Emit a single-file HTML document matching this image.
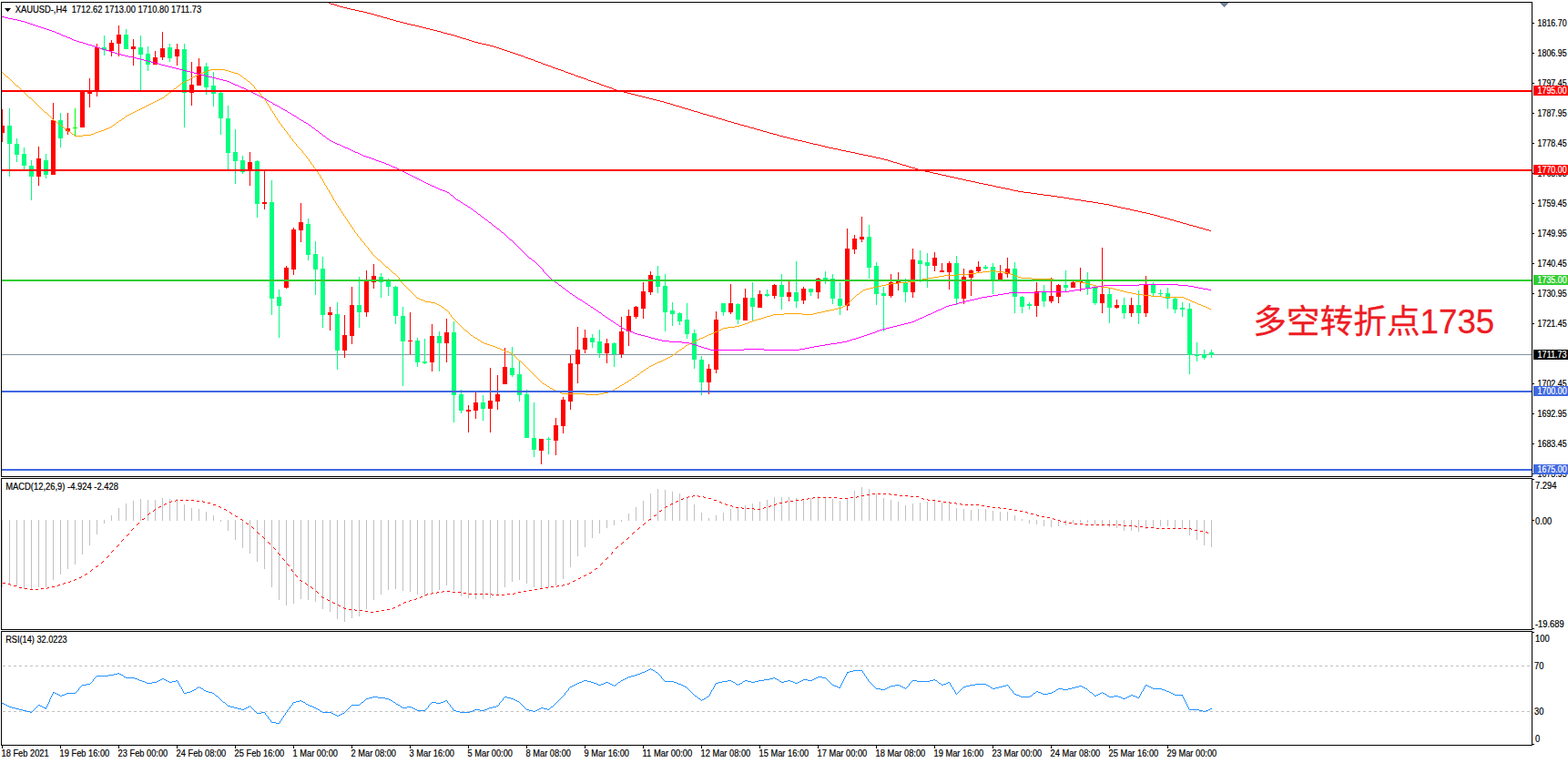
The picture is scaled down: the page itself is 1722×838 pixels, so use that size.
<!DOCTYPE html><html><head><meta charset="utf-8"><title>XAUUSD H4</title>
<style>html,body{margin:0;padding:0;background:#fff;overflow:hidden}svg{display:block}text{font-family:"Liberation Sans",sans-serif;font-size:10.2px;fill:#000;stroke:#000;stroke-width:.2px}</style></head><body>
<svg width="1722" height="838" viewBox="0 0 1722 838">
<rect width="1722" height="838" fill="#fff"/>
<defs><clipPath id="cm"><rect x="2" y="3" width="1680" height="520"/></clipPath></defs>
<g shape-rendering="crispEdges">
<g clip-path="url(#cm)">
<rect x="2" y="389" width="1680" height="1" fill="#8493A3"/>
<rect x="2" y="120" width="1" height="36" fill="#FF0000"/>
<rect x="0" y="138" width="5" height="8" fill="#FF0000"/>
<rect x="10" y="119" width="1" height="75" fill="#00FF7F"/>
<rect x="8" y="138" width="5" height="20" fill="#00FF7F"/>
<rect x="18" y="152" width="1" height="26" fill="#00FF7F"/>
<rect x="16" y="158" width="5" height="12" fill="#00FF7F"/>
<rect x="26" y="162" width="1" height="24" fill="#00FF7F"/>
<rect x="24" y="169" width="5" height="13" fill="#00FF7F"/>
<rect x="34" y="176" width="1" height="44" fill="#00FF7F"/>
<rect x="32" y="182" width="5" height="12" fill="#00FF7F"/>
<rect x="42" y="161" width="1" height="43" fill="#FF0000"/>
<rect x="40" y="174" width="5" height="20" fill="#FF0000"/>
<rect x="50" y="169" width="1" height="27" fill="#00FF7F"/>
<rect x="48" y="176" width="5" height="16" fill="#00FF7F"/>
<rect x="58" y="113" width="1" height="79" fill="#FF0000"/>
<rect x="56" y="132" width="5" height="60" fill="#FF0000"/>
<rect x="66" y="124" width="1" height="38" fill="#00FF7F"/>
<rect x="64" y="132" width="5" height="20" fill="#00FF7F"/>
<rect x="74" y="124" width="1" height="24" fill="#FF0000"/>
<rect x="72" y="141" width="5" height="3" fill="#FF0000"/>
<rect x="82" y="119" width="1" height="31" fill="#00FF00"/>
<rect x="80" y="140" width="5" height="1" fill="#00FF00"/>
<rect x="90" y="101" width="1" height="39" fill="#FF0000"/>
<rect x="88" y="101" width="5" height="39" fill="#FF0000"/>
<rect x="98" y="86" width="1" height="32" fill="#FF0000"/>
<rect x="96" y="100" width="5" height="3" fill="#FF0000"/>
<rect x="106" y="48" width="1" height="58" fill="#FF0000"/>
<rect x="104" y="52" width="5" height="48" fill="#FF0000"/>
<rect x="114" y="39" width="1" height="22" fill="#00FF7F"/>
<rect x="112" y="52" width="5" height="3" fill="#00FF7F"/>
<rect x="122" y="44" width="1" height="18" fill="#FF0000"/>
<rect x="120" y="47" width="5" height="9" fill="#FF0000"/>
<rect x="130" y="28" width="1" height="34" fill="#FF0000"/>
<rect x="128" y="38" width="5" height="10" fill="#FF0000"/>
<rect x="138" y="32" width="1" height="22" fill="#00FF7F"/>
<rect x="136" y="38" width="5" height="16" fill="#00FF7F"/>
<rect x="146" y="43" width="1" height="29" fill="#FF0000"/>
<rect x="144" y="51" width="5" height="3" fill="#FF0000"/>
<rect x="154" y="39" width="1" height="60" fill="#00FF7F"/>
<rect x="152" y="52" width="5" height="8" fill="#00FF7F"/>
<rect x="162" y="51" width="1" height="27" fill="#00FF7F"/>
<rect x="160" y="59" width="5" height="12" fill="#00FF7F"/>
<rect x="170" y="56" width="1" height="15" fill="#FF0000"/>
<rect x="168" y="63" width="5" height="8" fill="#FF0000"/>
<rect x="178" y="35" width="1" height="31" fill="#FF0000"/>
<rect x="176" y="53" width="5" height="10" fill="#FF0000"/>
<rect x="186" y="48" width="1" height="20" fill="#00FF7F"/>
<rect x="184" y="52" width="5" height="12" fill="#00FF7F"/>
<rect x="194" y="48" width="1" height="24" fill="#FF0000"/>
<rect x="192" y="54" width="5" height="8" fill="#FF0000"/>
<rect x="202" y="48" width="1" height="92" fill="#00FF7F"/>
<rect x="200" y="54" width="5" height="48" fill="#00FF7F"/>
<rect x="210" y="68" width="1" height="48" fill="#FF0000"/>
<rect x="208" y="93" width="5" height="9" fill="#FF0000"/>
<rect x="218" y="64" width="1" height="30" fill="#FF0000"/>
<rect x="216" y="73" width="5" height="21" fill="#FF0000"/>
<rect x="226" y="69" width="1" height="35" fill="#00FF7F"/>
<rect x="224" y="73" width="5" height="23" fill="#00FF7F"/>
<rect x="234" y="79" width="1" height="38" fill="#00FF7F"/>
<rect x="232" y="94" width="5" height="9" fill="#00FF7F"/>
<rect x="242" y="101" width="1" height="47" fill="#00FF7F"/>
<rect x="240" y="102" width="5" height="28" fill="#00FF7F"/>
<rect x="250" y="116" width="1" height="72" fill="#00FF7F"/>
<rect x="248" y="130" width="5" height="38" fill="#00FF7F"/>
<rect x="258" y="142" width="1" height="60" fill="#00FF7F"/>
<rect x="256" y="167" width="5" height="10" fill="#00FF7F"/>
<rect x="266" y="171" width="1" height="20" fill="#00FF7F"/>
<rect x="264" y="176" width="5" height="13" fill="#00FF7F"/>
<rect x="274" y="167" width="1" height="37" fill="#FF0000"/>
<rect x="272" y="178" width="5" height="9" fill="#FF0000"/>
<rect x="282" y="176" width="1" height="63" fill="#00FF7F"/>
<rect x="280" y="177" width="5" height="47" fill="#00FF7F"/>
<rect x="290" y="188" width="1" height="42" fill="#FF0000"/>
<rect x="288" y="222" width="5" height="2" fill="#FF0000"/>
<rect x="298" y="198" width="1" height="148" fill="#00FF7F"/>
<rect x="296" y="222" width="5" height="106" fill="#00FF7F"/>
<rect x="306" y="318" width="1" height="53" fill="#00FF7F"/>
<rect x="304" y="326" width="5" height="10" fill="#00FF7F"/>
<rect x="314" y="292" width="1" height="25" fill="#FF0000"/>
<rect x="312" y="294" width="5" height="22" fill="#FF0000"/>
<rect x="322" y="250" width="1" height="52" fill="#FF0000"/>
<rect x="320" y="252" width="5" height="44" fill="#FF0000"/>
<rect x="330" y="223" width="1" height="43" fill="#FF0000"/>
<rect x="328" y="244" width="5" height="9" fill="#FF0000"/>
<rect x="338" y="240" width="1" height="46" fill="#00FF7F"/>
<rect x="336" y="246" width="5" height="34" fill="#00FF7F"/>
<rect x="346" y="265" width="1" height="59" fill="#00FF7F"/>
<rect x="344" y="279" width="5" height="17" fill="#00FF7F"/>
<rect x="354" y="282" width="1" height="78" fill="#00FF7F"/>
<rect x="352" y="295" width="5" height="51" fill="#00FF7F"/>
<rect x="362" y="337" width="1" height="26" fill="#FF0000"/>
<rect x="360" y="343" width="5" height="3" fill="#FF0000"/>
<rect x="370" y="332" width="1" height="74" fill="#00FF7F"/>
<rect x="368" y="345" width="5" height="40" fill="#00FF7F"/>
<rect x="378" y="346" width="1" height="47" fill="#FF0000"/>
<rect x="376" y="368" width="5" height="17" fill="#FF0000"/>
<rect x="386" y="315" width="1" height="63" fill="#FF0000"/>
<rect x="384" y="335" width="5" height="34" fill="#FF0000"/>
<rect x="394" y="304" width="1" height="56" fill="#00FF7F"/>
<rect x="392" y="335" width="5" height="8" fill="#00FF7F"/>
<rect x="402" y="297" width="1" height="51" fill="#FF0000"/>
<rect x="400" y="308" width="5" height="35" fill="#FF0000"/>
<rect x="410" y="290" width="1" height="27" fill="#FF0000"/>
<rect x="408" y="303" width="5" height="7" fill="#FF0000"/>
<rect x="418" y="300" width="1" height="27" fill="#00FF7F"/>
<rect x="416" y="304" width="5" height="6" fill="#00FF7F"/>
<rect x="426" y="306" width="1" height="19" fill="#00FF7F"/>
<rect x="424" y="308" width="5" height="7" fill="#00FF7F"/>
<rect x="434" y="314" width="1" height="42" fill="#00FF7F"/>
<rect x="432" y="315" width="5" height="32" fill="#00FF7F"/>
<rect x="442" y="337" width="1" height="87" fill="#00FF7F"/>
<rect x="440" y="347" width="5" height="28" fill="#00FF7F"/>
<rect x="450" y="343" width="1" height="46" fill="#FF0000"/>
<rect x="448" y="374" width="5" height="1" fill="#FF0000"/>
<rect x="458" y="371" width="1" height="32" fill="#00FF7F"/>
<rect x="456" y="374" width="5" height="24" fill="#00FF7F"/>
<rect x="466" y="372" width="1" height="28" fill="#00FF7F"/>
<rect x="464" y="397" width="5" height="2" fill="#00FF7F"/>
<rect x="474" y="356" width="1" height="52" fill="#FF0000"/>
<rect x="472" y="369" width="5" height="29" fill="#FF0000"/>
<rect x="482" y="364" width="1" height="44" fill="#00FF7F"/>
<rect x="480" y="369" width="5" height="8" fill="#00FF7F"/>
<rect x="490" y="350" width="1" height="48" fill="#FF0000"/>
<rect x="488" y="365" width="5" height="12" fill="#FF0000"/>
<rect x="498" y="353" width="1" height="111" fill="#00FF7F"/>
<rect x="496" y="365" width="5" height="69" fill="#00FF7F"/>
<rect x="506" y="428" width="1" height="26" fill="#00FF7F"/>
<rect x="504" y="433" width="5" height="18" fill="#00FF7F"/>
<rect x="514" y="445" width="1" height="30" fill="#FF0000"/>
<rect x="512" y="450" width="5" height="2" fill="#FF0000"/>
<rect x="522" y="431" width="1" height="29" fill="#FF0000"/>
<rect x="520" y="442" width="5" height="9" fill="#FF0000"/>
<rect x="530" y="434" width="1" height="28" fill="#00FF7F"/>
<rect x="528" y="442" width="5" height="7" fill="#00FF7F"/>
<rect x="538" y="404" width="1" height="71" fill="#FF0000"/>
<rect x="536" y="440" width="5" height="9" fill="#FF0000"/>
<rect x="546" y="412" width="1" height="38" fill="#FF0000"/>
<rect x="544" y="433" width="5" height="8" fill="#FF0000"/>
<rect x="554" y="382" width="1" height="40" fill="#FF0000"/>
<rect x="552" y="403" width="5" height="19" fill="#FF0000"/>
<rect x="562" y="381" width="1" height="33" fill="#00FF7F"/>
<rect x="560" y="404" width="5" height="8" fill="#00FF7F"/>
<rect x="570" y="397" width="1" height="44" fill="#00FF7F"/>
<rect x="568" y="411" width="5" height="23" fill="#00FF7F"/>
<rect x="578" y="428" width="1" height="53" fill="#00FF7F"/>
<rect x="576" y="433" width="5" height="48" fill="#00FF7F"/>
<rect x="586" y="442" width="1" height="60" fill="#00FF7F"/>
<rect x="584" y="481" width="5" height="13" fill="#00FF7F"/>
<rect x="594" y="482" width="1" height="28" fill="#FF0000"/>
<rect x="592" y="482" width="5" height="13" fill="#FF0000"/>
<rect x="602" y="480" width="1" height="19" fill="#00FF7F"/>
<rect x="600" y="482" width="5" height="1" fill="#00FF7F"/>
<rect x="610" y="459" width="1" height="41" fill="#FF0000"/>
<rect x="608" y="467" width="5" height="17" fill="#FF0000"/>
<rect x="618" y="436" width="1" height="40" fill="#FF0000"/>
<rect x="616" y="439" width="5" height="29" fill="#FF0000"/>
<rect x="626" y="390" width="1" height="60" fill="#FF0000"/>
<rect x="624" y="399" width="5" height="42" fill="#FF0000"/>
<rect x="634" y="359" width="1" height="62" fill="#FF0000"/>
<rect x="632" y="384" width="5" height="16" fill="#FF0000"/>
<rect x="642" y="362" width="1" height="26" fill="#FF0000"/>
<rect x="640" y="371" width="5" height="13" fill="#FF0000"/>
<rect x="650" y="367" width="1" height="15" fill="#00FF7F"/>
<rect x="648" y="371" width="5" height="5" fill="#00FF7F"/>
<rect x="658" y="362" width="1" height="31" fill="#00FF7F"/>
<rect x="656" y="375" width="5" height="13" fill="#00FF7F"/>
<rect x="666" y="372" width="1" height="27" fill="#FF0000"/>
<rect x="664" y="377" width="5" height="11" fill="#FF0000"/>
<rect x="674" y="376" width="1" height="27" fill="#00FF7F"/>
<rect x="672" y="377" width="5" height="12" fill="#00FF7F"/>
<rect x="682" y="348" width="1" height="45" fill="#FF0000"/>
<rect x="680" y="364" width="5" height="25" fill="#FF0000"/>
<rect x="690" y="340" width="1" height="40" fill="#FF0000"/>
<rect x="688" y="347" width="5" height="17" fill="#FF0000"/>
<rect x="698" y="336" width="1" height="14" fill="#FF0000"/>
<rect x="696" y="337" width="5" height="11" fill="#FF0000"/>
<rect x="706" y="310" width="1" height="40" fill="#FF0000"/>
<rect x="704" y="320" width="5" height="19" fill="#FF0000"/>
<rect x="714" y="298" width="1" height="26" fill="#FF0000"/>
<rect x="712" y="302" width="5" height="19" fill="#FF0000"/>
<rect x="722" y="292" width="1" height="30" fill="#00FF7F"/>
<rect x="720" y="303" width="5" height="12" fill="#00FF7F"/>
<rect x="730" y="301" width="1" height="63" fill="#00FF7F"/>
<rect x="728" y="314" width="5" height="29" fill="#00FF7F"/>
<rect x="738" y="332" width="1" height="26" fill="#00FF7F"/>
<rect x="736" y="341" width="5" height="4" fill="#00FF7F"/>
<rect x="746" y="343" width="1" height="14" fill="#00FF7F"/>
<rect x="744" y="344" width="5" height="9" fill="#00FF7F"/>
<rect x="754" y="333" width="1" height="39" fill="#00FF7F"/>
<rect x="752" y="351" width="5" height="16" fill="#00FF7F"/>
<rect x="762" y="362" width="1" height="43" fill="#00FF7F"/>
<rect x="760" y="366" width="5" height="29" fill="#00FF7F"/>
<rect x="770" y="391" width="1" height="43" fill="#00FF7F"/>
<rect x="768" y="395" width="5" height="25" fill="#00FF7F"/>
<rect x="778" y="400" width="1" height="33" fill="#FF0000"/>
<rect x="776" y="405" width="5" height="15" fill="#FF0000"/>
<rect x="786" y="342" width="1" height="68" fill="#FF0000"/>
<rect x="784" y="351" width="5" height="55" fill="#FF0000"/>
<rect x="794" y="333" width="1" height="14" fill="#00FF7F"/>
<rect x="792" y="333" width="5" height="10" fill="#00FF7F"/>
<rect x="802" y="312" width="1" height="33" fill="#FF0000"/>
<rect x="800" y="333" width="5" height="10" fill="#FF0000"/>
<rect x="810" y="333" width="1" height="23" fill="#00FF7F"/>
<rect x="808" y="334" width="5" height="17" fill="#00FF7F"/>
<rect x="818" y="317" width="1" height="35" fill="#FF0000"/>
<rect x="816" y="327" width="5" height="25" fill="#FF0000"/>
<rect x="826" y="310" width="1" height="42" fill="#00FF7F"/>
<rect x="824" y="327" width="5" height="10" fill="#00FF7F"/>
<rect x="834" y="319" width="1" height="19" fill="#FF0000"/>
<rect x="832" y="323" width="5" height="15" fill="#FF0000"/>
<rect x="842" y="318" width="1" height="8" fill="#00FF7F"/>
<rect x="840" y="323" width="5" height="2" fill="#00FF7F"/>
<rect x="850" y="312" width="1" height="16" fill="#FF0000"/>
<rect x="848" y="313" width="5" height="12" fill="#FF0000"/>
<rect x="858" y="301" width="1" height="39" fill="#00FF7F"/>
<rect x="856" y="313" width="5" height="13" fill="#00FF7F"/>
<rect x="866" y="309" width="1" height="22" fill="#FF0000"/>
<rect x="864" y="321" width="5" height="5" fill="#FF0000"/>
<rect x="874" y="287" width="1" height="51" fill="#00FF7F"/>
<rect x="872" y="321" width="5" height="10" fill="#00FF7F"/>
<rect x="882" y="315" width="1" height="19" fill="#FF0000"/>
<rect x="880" y="317" width="5" height="13" fill="#FF0000"/>
<rect x="890" y="317" width="1" height="8" fill="#00FF7F"/>
<rect x="888" y="317" width="5" height="4" fill="#00FF7F"/>
<rect x="898" y="305" width="1" height="23" fill="#FF0000"/>
<rect x="896" y="306" width="5" height="15" fill="#FF0000"/>
<rect x="906" y="298" width="1" height="14" fill="#00FF7F"/>
<rect x="904" y="305" width="5" height="2" fill="#00FF7F"/>
<rect x="914" y="301" width="1" height="33" fill="#00FF7F"/>
<rect x="912" y="306" width="5" height="22" fill="#00FF7F"/>
<rect x="922" y="310" width="1" height="36" fill="#00FF7F"/>
<rect x="920" y="328" width="5" height="8" fill="#00FF7F"/>
<rect x="930" y="251" width="1" height="90" fill="#FF0000"/>
<rect x="928" y="273" width="5" height="63" fill="#FF0000"/>
<rect x="938" y="258" width="1" height="21" fill="#FF0000"/>
<rect x="936" y="262" width="5" height="12" fill="#FF0000"/>
<rect x="946" y="238" width="1" height="28" fill="#FF0000"/>
<rect x="944" y="260" width="5" height="3" fill="#FF0000"/>
<rect x="954" y="247" width="1" height="59" fill="#00FF7F"/>
<rect x="952" y="260" width="5" height="34" fill="#00FF7F"/>
<rect x="962" y="288" width="1" height="47" fill="#00FF7F"/>
<rect x="960" y="292" width="5" height="31" fill="#00FF7F"/>
<rect x="970" y="315" width="1" height="49" fill="#00FF7F"/>
<rect x="968" y="322" width="5" height="3" fill="#00FF7F"/>
<rect x="978" y="301" width="1" height="26" fill="#FF0000"/>
<rect x="976" y="310" width="5" height="15" fill="#FF0000"/>
<rect x="986" y="299" width="1" height="20" fill="#FF0000"/>
<rect x="984" y="309" width="5" height="2" fill="#FF0000"/>
<rect x="994" y="306" width="1" height="26" fill="#00FF7F"/>
<rect x="992" y="310" width="5" height="11" fill="#00FF7F"/>
<rect x="1002" y="273" width="1" height="54" fill="#FF0000"/>
<rect x="1000" y="285" width="5" height="36" fill="#FF0000"/>
<rect x="1010" y="275" width="1" height="35" fill="#00FF7F"/>
<rect x="1008" y="286" width="5" height="4" fill="#00FF7F"/>
<rect x="1018" y="278" width="1" height="38" fill="#00FF7F"/>
<rect x="1016" y="288" width="5" height="4" fill="#00FF7F"/>
<rect x="1026" y="277" width="1" height="21" fill="#FF0000"/>
<rect x="1024" y="283" width="5" height="9" fill="#FF0000"/>
<rect x="1034" y="289" width="1" height="10" fill="#FF0000"/>
<rect x="1032" y="297" width="5" height="2" fill="#FF0000"/>
<rect x="1042" y="287" width="1" height="31" fill="#FF0000"/>
<rect x="1040" y="289" width="5" height="10" fill="#FF0000"/>
<rect x="1050" y="281" width="1" height="54" fill="#00FF7F"/>
<rect x="1048" y="289" width="5" height="39" fill="#00FF7F"/>
<rect x="1058" y="295" width="1" height="39" fill="#FF0000"/>
<rect x="1056" y="304" width="5" height="24" fill="#FF0000"/>
<rect x="1066" y="296" width="1" height="29" fill="#FF0000"/>
<rect x="1064" y="297" width="5" height="8" fill="#FF0000"/>
<rect x="1074" y="287" width="1" height="13" fill="#FF0000"/>
<rect x="1072" y="293" width="5" height="5" fill="#FF0000"/>
<rect x="1082" y="291" width="1" height="5" fill="#00FF7F"/>
<rect x="1080" y="293" width="5" height="2" fill="#00FF7F"/>
<rect x="1090" y="289" width="1" height="34" fill="#00FF7F"/>
<rect x="1088" y="293" width="5" height="14" fill="#00FF7F"/>
<rect x="1098" y="291" width="1" height="16" fill="#FF0000"/>
<rect x="1096" y="300" width="5" height="7" fill="#FF0000"/>
<rect x="1106" y="283" width="1" height="22" fill="#FF0000"/>
<rect x="1104" y="295" width="5" height="6" fill="#FF0000"/>
<rect x="1114" y="288" width="1" height="56" fill="#00FF7F"/>
<rect x="1112" y="295" width="5" height="31" fill="#00FF7F"/>
<rect x="1122" y="325" width="1" height="19" fill="#00FF7F"/>
<rect x="1120" y="326" width="5" height="11" fill="#00FF7F"/>
<rect x="1130" y="332" width="1" height="8" fill="#00FF7F"/>
<rect x="1128" y="334" width="5" height="2" fill="#00FF7F"/>
<rect x="1138" y="310" width="1" height="38" fill="#FF0000"/>
<rect x="1136" y="320" width="5" height="16" fill="#FF0000"/>
<rect x="1146" y="313" width="1" height="24" fill="#00FF7F"/>
<rect x="1144" y="320" width="5" height="11" fill="#00FF7F"/>
<rect x="1154" y="305" width="1" height="28" fill="#FF0000"/>
<rect x="1152" y="325" width="5" height="6" fill="#FF0000"/>
<rect x="1162" y="312" width="1" height="21" fill="#FF0000"/>
<rect x="1160" y="313" width="5" height="13" fill="#FF0000"/>
<rect x="1170" y="297" width="1" height="23" fill="#00FF7F"/>
<rect x="1168" y="313" width="5" height="3" fill="#00FF7F"/>
<rect x="1178" y="309" width="1" height="7" fill="#FF0000"/>
<rect x="1176" y="310" width="5" height="6" fill="#FF0000"/>
<rect x="1186" y="294" width="1" height="26" fill="#FF0000"/>
<rect x="1184" y="308" width="5" height="2" fill="#FF0000"/>
<rect x="1194" y="299" width="1" height="25" fill="#00FF7F"/>
<rect x="1192" y="309" width="5" height="7" fill="#00FF7F"/>
<rect x="1202" y="314" width="1" height="21" fill="#00FF7F"/>
<rect x="1200" y="316" width="5" height="17" fill="#00FF7F"/>
<rect x="1210" y="272" width="1" height="72" fill="#FF0000"/>
<rect x="1208" y="323" width="5" height="10" fill="#FF0000"/>
<rect x="1218" y="317" width="1" height="38" fill="#00FF7F"/>
<rect x="1216" y="323" width="5" height="15" fill="#00FF7F"/>
<rect x="1226" y="329" width="1" height="10" fill="#FF0000"/>
<rect x="1224" y="335" width="5" height="3" fill="#FF0000"/>
<rect x="1234" y="327" width="1" height="23" fill="#00FF7F"/>
<rect x="1232" y="335" width="5" height="9" fill="#00FF7F"/>
<rect x="1242" y="327" width="1" height="21" fill="#FF0000"/>
<rect x="1240" y="335" width="5" height="9" fill="#FF0000"/>
<rect x="1250" y="319" width="1" height="37" fill="#00FF7F"/>
<rect x="1248" y="335" width="5" height="9" fill="#00FF7F"/>
<rect x="1258" y="303" width="1" height="45" fill="#FF0000"/>
<rect x="1256" y="312" width="5" height="32" fill="#FF0000"/>
<rect x="1266" y="310" width="1" height="16" fill="#00FF7F"/>
<rect x="1264" y="312" width="5" height="10" fill="#00FF7F"/>
<rect x="1274" y="318" width="1" height="7" fill="#00FF7F"/>
<rect x="1272" y="322" width="5" height="1" fill="#00FF7F"/>
<rect x="1282" y="316" width="1" height="23" fill="#00FF7F"/>
<rect x="1280" y="322" width="5" height="6" fill="#00FF7F"/>
<rect x="1290" y="327" width="1" height="17" fill="#00FF7F"/>
<rect x="1288" y="328" width="5" height="12" fill="#00FF7F"/>
<rect x="1298" y="332" width="1" height="16" fill="#00FF7F"/>
<rect x="1296" y="338" width="5" height="2" fill="#00FF7F"/>
<rect x="1306" y="333" width="1" height="78" fill="#00FF7F"/>
<rect x="1304" y="339" width="5" height="51" fill="#00FF7F"/>
<rect x="1314" y="376" width="1" height="21" fill="#00FF7F"/>
<rect x="1312" y="389" width="5" height="2" fill="#00FF7F"/>
<rect x="1322" y="384" width="1" height="11" fill="#00FF7F"/>
<rect x="1320" y="389" width="5" height="4" fill="#00FF7F"/>
<rect x="1330" y="384" width="1" height="9" fill="#00FF7F"/>
<rect x="1328" y="387" width="5" height="3" fill="#00FF7F"/>
<path d="M231 76h16M228 77h3M247 77h4M226 78h2M251 78h3M2 79h1M223 79h3M254 79h3M3 80h1M220 80h3M257 80h4M4 81h1M218 81h2M261 81h2M5 82h1M216 82h2M263 82h1M6 83h1M214 83h2M264 83h2M7 84h2M212 84h2M266 84h1M9 85h1M210 85h2M267 85h1M10 86h1M209 86h1M268 86h2M11 87h1M207 87h2M270 87h1M12 88h1M205 88h2M271 88h1M13 89h1M203 89h2M272 89h2M14 90h1M201 90h2M274 90h1M15 91h1M199 91h2M275 91h1M16 92h1M198 92h1M276 92h1M17 93h1M197 93h1M277 93h1M18 94h2M195 94h2M278 94h1M20 95h1M194 95h1M279 95h1M21 96h1M193 96h1M279 96h1M22 97h1M191 97h2M280 97h1M23 98h1M190 98h1M281 98h1M24 99h1M189 99h1M282 99h1M25 100h1M188 100h1M283 100h1M26 101h1M186 101h2M284 101h1M27 102h1M185 102h1M285 102h1M28 103h1M184 103h1M286 103h1M29 104h1M182 104h2M286 104h1M30 105h1M181 105h1M287 105h1M31 106h1M180 106h1M288 106h1M32 107h2M178 107h2M289 107h1M34 108h1M176 108h2M290 108h1M35 109h1M174 109h2M291 109h1M36 110h1M172 110h2M291 110h1M37 111h1M170 111h2M292 111h1M38 112h1M168 112h2M292 112h1M39 113h1M166 113h2M293 113h1M40 114h1M164 114h2M294 114h1M41 115h1M162 115h2M294 115h1M42 116h1M160 116h2M295 116h1M43 117h1M158 117h2M296 117h1M44 118h1M156 118h2M296 118h1M45 119h1M154 119h2M297 119h1M46 120h1M152 120h2M297 120h1M47 121h1M150 121h2M298 121h1M48 122h1M148 122h2M299 122h1M49 123h2M146 123h2M299 123h1M51 124h1M144 124h2M300 124h1M52 125h1M142 125h2M301 125h1M53 126h1M140 126h2M301 126h1M54 127h1M138 127h2M302 127h1M55 128h1M137 128h1M302 128h1M56 129h1M136 129h1M303 129h1M57 130h1M134 130h2M304 130h1M58 131h1M133 131h1M304 131h1M59 132h2M131 132h2M305 132h1M61 133h1M130 133h1M306 133h1M62 134h1M128 134h2M306 134h1M63 135h2M127 135h1M307 135h1M65 136h1M126 136h1M308 136h1M66 137h1M124 137h2M309 137h1M67 138h2M123 138h1M309 138h1M69 139h1M121 139h2M310 139h1M70 140h1M119 140h2M311 140h1M71 141h2M116 141h3M312 141h1M73 142h1M114 142h2M312 142h1M74 143h1M111 143h3M313 143h1M75 144h2M108 144h3M314 144h1M77 145h1M105 145h3M315 145h1M78 146h1M103 146h2M315 146h1M79 147h2M100 147h3M316 147h1M81 148h1M91 148h9M317 148h1M82 149h9M318 149h1M318 150h1M319 151h1M320 152h1M321 153h1M321 154h1M322 155h1M323 156h1M324 157h1M325 158h1M325 159h1M326 160h1M327 161h1M328 162h1M329 163h1M330 164h1M331 165h1M332 166h1M332 167h1M333 168h1M334 169h1M335 170h1M336 171h1M336 172h1M337 173h1M338 174h1M339 175h1M339 176h1M340 177h1M341 178h1M341 179h1M342 180h1M343 181h1M344 182h1M344 183h1M345 184h1M346 185h1M346 186h1M347 187h1M348 188h1M349 189h1M349 190h1M350 191h1M351 192h1M351 193h1M352 194h1M352 195h1M353 196h1M354 197h1M354 198h1M355 199h1M355 200h1M356 201h1M356 202h1M357 203h1M358 204h1M358 205h1M359 206h1M359 207h1M360 208h1M361 209h1M361 210h1M362 211h1M362 212h1M363 213h1M364 214h1M364 215h1M365 216h1M365 217h1M366 218h1M366 219h1M367 220h1M368 221h1M368 222h1M369 223h1M369 224h1M370 225h1M371 226h1M371 227h1M372 228h1M373 229h1M373 230h1M374 231h1M375 232h1M375 233h1M376 234h1M377 235h1M377 236h1M378 237h1M379 238h1M379 239h1M380 240h1M381 241h1M381 242h1M382 243h1M383 244h1M383 245h1M384 246h1M385 247h1M385 248h1M386 249h1M387 250h1M387 251h1M388 252h1M389 253h1M389 254h1M390 255h1M391 256h1M392 257h1M392 258h1M393 259h1M394 260h1M395 261h1M396 262h1M396 263h1M397 264h1M398 265h1M399 266h1M400 267h1M400 268h1M401 269h1M402 270h1M403 271h1M404 272h1M404 273h1M405 274h1M406 275h1M407 276h1M408 277h1M408 278h1M409 279h1M410 280h1M411 281h1M412 282h1M413 283h1M414 284h1M415 285h2M417 286h1M418 287h1M419 288h1M420 289h1M421 290h1M422 291h1M423 292h1M424 293h2M426 294h1M427 295h1M428 296h1M429 297h1M1087 297h7M430 298h1M1079 298h8M1094 298h8M431 299h1M1072 299h7M1102 299h5M432 300h2M1064 300h8M1107 300h3M434 301h1M1051 301h13M1110 301h3M435 302h1M1037 302h14M1113 302h2M436 303h1M1031 303h6M1115 303h3M437 304h1M1025 304h6M1118 304h3M438 305h1M1019 305h6M1121 305h12M438 306h1M1013 306h6M1133 306h24M439 307h1M1009 307h4M1157 307h17M440 308h1M1005 308h4M1174 308h7M440 309h1M997 309h8M1181 309h6M441 310h1M986 310h11M1187 310h5M442 311h1M978 311h8M1192 311h4M443 312h1M973 312h5M1196 312h4M444 313h1M968 313h5M1200 313h4M445 314h1M963 314h5M1204 314h5M446 315h1M959 315h4M1209 315h8M447 316h1M955 316h4M1217 316h5M448 317h1M951 317h4M1222 317h4M449 318h1M948 318h3M1226 318h4M450 319h1M947 319h1M1230 319h4M451 320h1M945 320h2M1234 320h4M452 321h1M944 321h1M1238 321h5M453 322h1M943 322h1M1243 322h5M454 323h1M941 323h2M1248 323h7M455 324h1M940 324h1M1255 324h9M456 325h1M939 325h1M1264 325h12M457 326h1M938 326h1M1276 326h24M458 327h2M937 327h1M1300 327h2M460 328h2M936 328h1M1302 328h3M462 329h3M935 329h1M1305 329h2M465 330h2M934 330h1M1307 330h2M467 331h6M933 331h1M1309 331h3M473 332h5M932 332h1M1312 332h2M478 333h2M931 333h1M1314 333h2M480 334h2M930 334h1M1316 334h3M482 335h2M928 335h2M1319 335h2M484 336h1M926 336h2M1321 336h3M485 337h2M924 337h2M1324 337h2M487 338h1M920 338h4M1326 338h2M488 339h1M916 339h4M1328 339h2M489 340h2M911 340h5M491 341h1M906 341h5M492 342h1M902 342h4M493 343h1M897 343h5M493 344h1M861 344h20M893 344h4M494 345h1M849 345h12M881 345h12M495 346h1M846 346h3M495 347h1M842 347h4M496 348h1M839 348h3M497 349h1M836 349h3M498 350h1M832 350h4M499 351h1M829 351h3M500 352h1M826 352h3M501 353h1M823 353h3M502 354h1M821 354h2M503 355h1M818 355h3M504 356h1M815 356h3M505 357h1M812 357h3M506 358h1M807 358h5M507 359h1M799 359h8M508 360h1M794 360h5M509 361h1M792 361h2M510 362h1M790 362h2M511 363h2M788 363h2M513 364h1M785 364h3M514 365h1M783 365h2M515 366h1M781 366h2M516 367h1M778 367h3M517 368h2M776 368h2M519 369h1M774 369h2M520 370h2M772 370h2M522 371h2M769 371h3M524 372h1M767 372h2M525 373h2M765 373h2M527 374h1M763 374h2M528 375h2M761 375h2M530 376h2M759 376h2M532 377h3M757 377h2M535 378h3M755 378h2M538 379h3M753 379h2M541 380h3M752 380h1M544 381h2M751 381h1M546 382h3M749 382h2M549 383h2M748 383h1M551 384h3M746 384h2M554 385h2M745 385h1M556 386h3M743 386h2M559 387h2M742 387h1M561 388h2M741 388h1M563 389h1M739 389h2M564 390h1M738 390h1M565 391h1M736 391h2M566 392h1M734 392h2M567 393h1M732 393h2M568 394h1M730 394h2M569 395h1M728 395h2M570 396h2M726 396h2M572 397h1M723 397h3M573 398h1M721 398h2M574 399h1M719 399h2M575 400h1M717 400h2M576 401h1M715 401h2M577 402h1M713 402h2M578 403h1M712 403h1M579 404h1M710 404h2M580 405h1M709 405h1M581 406h1M707 406h2M582 407h1M706 407h1M583 408h1M704 408h2M584 409h1M703 409h1M585 410h1M702 410h1M586 411h1M700 411h2M587 412h1M699 412h1M588 413h1M697 413h2M589 414h1M696 414h1M590 415h1M694 415h2M591 416h1M693 416h1M592 417h1M691 417h2M593 418h1M690 418h1M594 419h1M688 419h2M595 420h1M686 420h2M596 421h2M685 421h1M598 422h2M683 422h2M600 423h1M681 423h2M601 424h2M680 424h1M603 425h1M678 425h2M604 426h2M676 426h2M606 427h2M675 427h1M608 428h2M673 428h2M610 429h2M671 429h2M612 430h3M668 430h3M615 431h2M663 431h5M617 432h26M658 432h5M643 433h15" transform="translate(0,.5)" fill="none" stroke="#FFA500" stroke-width="1"/>
<path d="M2 18h3M5 19h4M9 20h5M14 21h5M19 22h4M23 23h4M27 24h3M30 25h3M33 26h3M36 27h3M39 28h3M42 29h3M45 30h3M48 31h3M51 32h3M54 33h3M57 34h3M60 35h2M62 36h3M65 37h2M67 38h2M69 39h3M72 40h2M74 41h3M77 42h2M79 43h2M81 44h3M84 45h3M87 46h4M91 47h3M94 48h3M97 49h4M101 50h3M104 51h3M107 52h3M110 53h3M113 54h3M116 55h4M120 56h3M123 57h3M126 58h3M129 59h4M133 60h4M137 61h4M141 62h5M146 63h4M150 64h4M154 65h4M158 66h4M162 67h4M166 68h4M170 69h4M174 70h3M177 71h4M181 72h4M185 73h4M189 74h4M193 75h4M197 76h4M201 77h4M205 78h4M209 79h4M213 80h4M217 81h4M221 82h4M225 83h4M229 84h4M233 85h4M237 86h4M241 87h4M245 88h4M249 89h3M252 90h2M254 91h2M256 92h2M258 93h3M261 94h2M263 95h2M265 96h3M268 97h2M270 98h2M272 99h2M274 100h2M276 101h2M278 102h2M280 103h2M282 104h2M284 105h2M286 106h2M288 107h2M290 108h2M292 109h1M293 110h2M295 111h2M297 112h2M299 113h1M300 114h2M302 115h2M304 116h2M306 117h2M308 118h1M309 119h2M311 120h2M313 121h2M315 122h1M316 123h2M318 124h2M320 125h1M321 126h2M323 127h2M325 128h1M326 129h2M328 130h1M329 131h2M331 132h2M333 133h1M334 134h2M336 135h2M338 136h1M339 137h2M341 138h1M342 139h1M343 140h2M345 141h1M346 142h1M347 143h2M349 144h1M350 145h1M351 146h2M353 147h1M354 148h1M355 149h2M357 150h1M358 151h1M359 152h2M361 153h1M362 154h2M364 155h2M366 156h2M368 157h2M370 158h3M373 159h2M375 160h2M377 161h2M379 162h3M382 163h2M384 164h2M386 165h2M388 166h2M390 167h3M393 168h2M395 169h2M397 170h2M399 171h3M402 172h3M405 173h3M408 174h3M411 175h2M413 176h3M416 177h3M419 178h3M422 179h2M424 180h3M427 181h2M429 182h2M431 183h3M434 184h2M436 185h2M438 186h2M440 187h2M442 188h2M444 189h2M446 190h2M448 191h2M450 192h2M452 193h2M454 194h2M456 195h2M458 196h2M460 197h2M462 198h2M464 199h2M466 200h2M468 201h2M470 202h2M472 203h2M474 204h3M477 205h2M479 206h2M481 207h2M483 208h3M486 209h3M489 210h2M491 211h2M493 212h1M494 213h1M495 214h2M497 215h1M498 216h1M499 217h1M500 218h1M501 219h2M503 220h2M505 221h1M506 222h2M508 223h1M509 224h2M511 225h2M513 226h1M514 227h2M516 228h1M517 229h2M519 230h1M520 231h1M521 232h2M523 233h1M524 234h1M525 235h2M527 236h1M528 237h1M529 238h2M531 239h1M532 240h1M533 241h2M535 242h1M536 243h1M537 244h2M539 245h1M540 246h1M541 247h1M542 248h2M544 249h1M545 250h1M546 251h2M548 252h1M549 253h1M550 254h1M551 255h2M553 256h1M554 257h1M555 258h1M556 259h1M557 260h1M558 261h1M559 262h1M560 263h2M562 264h1M563 265h1M564 266h1M565 267h1M566 268h1M567 269h1M568 270h1M569 271h1M570 272h1M571 273h1M572 274h1M573 275h1M574 276h1M575 277h1M576 278h1M577 279h1M578 280h1M579 281h1M580 282h1M581 283h2M583 284h1M584 285h1M585 286h2M587 287h1M588 288h1M589 289h1M590 290h1M591 291h1M592 292h1M593 293h1M594 294h1M595 295h1M596 296h1M596 297h1M597 298h1M598 299h1M599 300h1M600 301h1M601 302h1M602 303h1M603 304h1M604 305h1M605 306h1M606 307h2M608 308h1M609 309h1M610 310h2M612 311h1M613 312h1M1251 312h43M614 313h2M1212 313h39M1294 313h11M616 314h1M1206 314h6M1305 314h6M617 315h1M1199 315h7M1311 315h5M618 316h2M1192 316h7M1316 316h5M620 317h1M1186 317h6M1321 317h6M621 318h1M1180 318h6M1327 318h3M622 319h2M1174 319h6M624 320h1M1141 320h33M625 321h1M1108 321h33M626 322h2M1102 322h6M628 323h1M1096 323h6M629 324h2M1090 324h6M631 325h1M1084 325h6M632 326h2M1078 326h6M634 327h1M1074 327h4M635 328h2M1070 328h4M637 329h2M1065 329h5M639 330h1M1061 330h4M640 331h2M1057 331h4M642 332h1M1053 332h4M643 333h2M1050 333h3M645 334h1M1046 334h4M646 335h2M1042 335h4M648 336h1M1039 336h3M649 337h2M1037 337h2M651 338h1M1035 338h2M652 339h2M1033 339h2M654 340h1M1030 340h3M655 341h2M1028 341h2M657 342h1M1026 342h2M658 343h2M1024 343h2M660 344h1M1022 344h2M661 345h1M1019 345h3M662 346h2M1017 346h2M664 347h1M1015 347h2M665 348h2M1013 348h2M667 349h1M1010 349h3M668 350h2M1008 350h2M670 351h1M1006 351h2M671 352h2M1004 352h2M673 353h1M1001 353h3M674 354h2M997 354h4M676 355h1M993 355h4M677 356h2M989 356h4M679 357h1M985 357h4M680 358h2M981 358h4M682 359h1M977 359h4M683 360h2M973 360h4M685 361h2M969 361h4M687 362h2M966 362h3M689 363h3M963 363h3M692 364h3M961 364h2M695 365h2M958 365h3M697 366h3M955 366h3M700 367h4M952 367h3M704 368h4M949 368h3M708 369h4M946 369h3M712 370h3M943 370h3M715 371h4M940 371h3M719 372h4M936 372h4M723 373h4M933 373h3M727 374h8M930 374h3M735 375h14M925 375h5M749 376h8M919 376h6M757 377h3M912 377h7M760 378h4M906 378h6M764 379h3M900 379h6M767 380h3M894 380h6M770 381h3M889 381h5M773 382h4M884 382h5M777 383h3M817 383h22M878 383h6M780 384h37M839 384h39" transform="translate(0,.5)" fill="none" stroke="#FF00FF" stroke-width="1"/>
<path d="M361 3h2M363 4h4M367 5h3M370 6h3M373 7h4M377 8h4M381 9h4M385 10h5M390 11h4M394 12h5M399 13h4M403 14h4M407 15h4M411 16h3M414 17h4M418 18h3M421 19h4M425 20h3M428 21h4M432 22h3M435 23h4M439 24h4M443 25h4M447 26h4M451 27h5M456 28h4M460 29h4M464 30h4M468 31h4M472 32h4M476 33h4M480 34h4M484 35h3M487 36h4M491 37h4M495 38h4M499 39h3M502 40h3M505 41h3M508 42h4M512 43h3M515 44h3M518 45h3M521 46h4M525 47h4M529 48h5M534 49h4M538 50h4M542 51h3M545 52h3M548 53h3M551 54h3M554 55h3M557 56h3M560 57h3M563 58h3M566 59h3M569 60h3M572 61h3M575 62h2M577 63h3M580 64h3M583 65h3M586 66h2M588 67h3M591 68h3M594 69h2M596 70h3M599 71h3M602 72h3M605 73h2M607 74h3M610 75h3M613 76h3M616 77h3M619 78h2M621 79h3M624 80h3M627 81h3M630 82h2M632 83h3M635 84h3M638 85h3M641 86h3M644 87h2M646 88h3M649 89h3M652 90h3M655 91h3M658 92h2M660 93h3M663 94h3M666 95h3M669 96h3M672 97h2M674 98h3M677 99h4M681 100h4M685 101h4M689 102h4M693 103h4M697 104h4M701 105h4M705 106h4M709 107h4M713 108h4M717 109h4M721 110h4M725 111h4M729 112h3M732 113h4M736 114h3M739 115h3M742 116h4M746 117h3M749 118h3M752 119h4M756 120h3M759 121h3M762 122h4M766 123h3M769 124h3M772 125h4M776 126h3M779 127h4M783 128h3M786 129h3M789 130h4M793 131h3M796 132h3M799 133h4M803 134h3M806 135h4M810 136h3M813 137h4M817 138h4M821 139h3M824 140h4M828 141h3M831 142h4M835 143h3M838 144h4M842 145h3M845 146h4M849 147h4M853 148h3M856 149h4M860 150h4M864 151h4M868 152h4M872 153h4M876 154h5M881 155h4M885 156h4M889 157h4M893 158h5M898 159h4M902 160h4M906 161h4M910 162h5M915 163h5M920 164h4M924 165h5M929 166h5M934 167h5M939 168h4M943 169h5M948 170h5M953 171h5M958 172h4M962 173h5M967 174h4M971 175h4M975 176h3M978 177h3M981 178h4M985 179h3M988 180h3M991 181h4M995 182h3M998 183h3M1001 184h4M1005 185h3M1008 186h4M1012 187h4M1016 188h5M1021 189h4M1025 190h5M1030 191h4M1034 192h5M1039 193h4M1043 194h5M1048 195h4M1052 196h5M1057 197h4M1061 198h5M1066 199h5M1071 200h4M1075 201h5M1080 202h5M1085 203h5M1090 204h4M1094 205h5M1099 206h5M1104 207h5M1109 208h4M1113 209h5M1118 210h6M1124 211h8M1132 212h7M1139 213h7M1146 214h8M1154 215h7M1161 216h7M1168 217h6M1174 218h6M1180 219h7M1187 220h6M1193 221h7M1200 222h6M1206 223h6M1212 224h6M1218 225h4M1222 226h5M1227 227h4M1231 228h5M1236 229h5M1241 230h4M1245 231h5M1250 232h4M1254 233h5M1259 234h4M1263 235h4M1267 236h4M1271 237h3M1274 238h4M1278 239h4M1282 240h3M1285 241h4M1289 242h3M1292 243h4M1296 244h3M1299 245h4M1303 246h3M1306 247h4M1310 248h4M1314 249h3M1317 250h4M1321 251h3M1324 252h4M1328 253h2" transform="translate(0,.5)" fill="none" stroke="#FF0000" stroke-width="1"/>
<rect x="2" y="99" width="1680" height="2" fill="#FF0000"/>
<rect x="2" y="186" width="1680" height="2" fill="#FF0000"/>
<rect x="2" y="307" width="1680" height="2" fill="#32CD32"/>
<rect x="2" y="429" width="1680" height="2" fill="#4169E1"/>
<rect x="2" y="515" width="1680" height="2" fill="#4169E1"/>
</g>
<polygon points="1339.5,3 1349.5,3 1344.5,8.2" fill="#76859A"/>
<rect x="2" y="571" width="1" height="74" fill="#C0C0C0"/>
<rect x="10" y="571" width="1" height="70" fill="#C0C0C0"/>
<rect x="18" y="571" width="1" height="73" fill="#C0C0C0"/>
<rect x="26" y="571" width="1" height="76" fill="#C0C0C0"/>
<rect x="34" y="571" width="1" height="77" fill="#C0C0C0"/>
<rect x="42" y="571" width="1" height="74" fill="#C0C0C0"/>
<rect x="50" y="571" width="1" height="74" fill="#C0C0C0"/>
<rect x="58" y="571" width="1" height="66" fill="#C0C0C0"/>
<rect x="66" y="571" width="1" height="60" fill="#C0C0C0"/>
<rect x="74" y="571" width="1" height="54" fill="#C0C0C0"/>
<rect x="82" y="571" width="1" height="49" fill="#C0C0C0"/>
<rect x="90" y="571" width="1" height="38" fill="#C0C0C0"/>
<rect x="98" y="571" width="1" height="28" fill="#C0C0C0"/>
<rect x="106" y="571" width="1" height="16" fill="#C0C0C0"/>
<rect x="114" y="571" width="1" height="4" fill="#C0C0C0"/>
<rect x="122" y="566" width="1" height="6" fill="#C0C0C0"/>
<rect x="130" y="558" width="1" height="14" fill="#C0C0C0"/>
<rect x="138" y="553" width="1" height="19" fill="#C0C0C0"/>
<rect x="146" y="550" width="1" height="22" fill="#C0C0C0"/>
<rect x="154" y="548" width="1" height="24" fill="#C0C0C0"/>
<rect x="162" y="549" width="1" height="23" fill="#C0C0C0"/>
<rect x="170" y="549" width="1" height="23" fill="#C0C0C0"/>
<rect x="178" y="547" width="1" height="25" fill="#C0C0C0"/>
<rect x="186" y="548" width="1" height="24" fill="#C0C0C0"/>
<rect x="194" y="548" width="1" height="24" fill="#C0C0C0"/>
<rect x="202" y="554" width="1" height="18" fill="#C0C0C0"/>
<rect x="210" y="558" width="1" height="14" fill="#C0C0C0"/>
<rect x="218" y="559" width="1" height="13" fill="#C0C0C0"/>
<rect x="226" y="562" width="1" height="10" fill="#C0C0C0"/>
<rect x="234" y="566" width="1" height="6" fill="#C0C0C0"/>
<rect x="242" y="571" width="1" height="2" fill="#C0C0C0"/>
<rect x="250" y="571" width="1" height="12" fill="#C0C0C0"/>
<rect x="258" y="571" width="1" height="22" fill="#C0C0C0"/>
<rect x="266" y="571" width="1" height="31" fill="#C0C0C0"/>
<rect x="274" y="571" width="1" height="37" fill="#C0C0C0"/>
<rect x="282" y="571" width="1" height="46" fill="#C0C0C0"/>
<rect x="290" y="571" width="1" height="54" fill="#C0C0C0"/>
<rect x="298" y="571" width="1" height="74" fill="#C0C0C0"/>
<rect x="306" y="571" width="1" height="88" fill="#C0C0C0"/>
<rect x="314" y="571" width="1" height="94" fill="#C0C0C0"/>
<rect x="322" y="571" width="1" height="92" fill="#C0C0C0"/>
<rect x="330" y="571" width="1" height="87" fill="#C0C0C0"/>
<rect x="338" y="571" width="1" height="88" fill="#C0C0C0"/>
<rect x="346" y="571" width="1" height="90" fill="#C0C0C0"/>
<rect x="354" y="571" width="1" height="98" fill="#C0C0C0"/>
<rect x="362" y="571" width="1" height="101" fill="#C0C0C0"/>
<rect x="370" y="571" width="1" height="109" fill="#C0C0C0"/>
<rect x="378" y="571" width="1" height="112" fill="#C0C0C0"/>
<rect x="386" y="571" width="1" height="108" fill="#C0C0C0"/>
<rect x="394" y="571" width="1" height="106" fill="#C0C0C0"/>
<rect x="402" y="571" width="1" height="98" fill="#C0C0C0"/>
<rect x="410" y="571" width="1" height="88" fill="#C0C0C0"/>
<rect x="418" y="571" width="1" height="82" fill="#C0C0C0"/>
<rect x="426" y="571" width="1" height="77" fill="#C0C0C0"/>
<rect x="434" y="571" width="1" height="76" fill="#C0C0C0"/>
<rect x="442" y="571" width="1" height="78" fill="#C0C0C0"/>
<rect x="450" y="571" width="1" height="79" fill="#C0C0C0"/>
<rect x="458" y="571" width="1" height="82" fill="#C0C0C0"/>
<rect x="466" y="571" width="1" height="84" fill="#C0C0C0"/>
<rect x="474" y="571" width="1" height="80" fill="#C0C0C0"/>
<rect x="482" y="571" width="1" height="77" fill="#C0C0C0"/>
<rect x="490" y="571" width="1" height="72" fill="#C0C0C0"/>
<rect x="498" y="571" width="1" height="78" fill="#C0C0C0"/>
<rect x="506" y="571" width="1" height="84" fill="#C0C0C0"/>
<rect x="514" y="571" width="1" height="86" fill="#C0C0C0"/>
<rect x="522" y="571" width="1" height="87" fill="#C0C0C0"/>
<rect x="530" y="571" width="1" height="87" fill="#C0C0C0"/>
<rect x="538" y="571" width="1" height="86" fill="#C0C0C0"/>
<rect x="546" y="571" width="1" height="82" fill="#C0C0C0"/>
<rect x="554" y="571" width="1" height="74" fill="#C0C0C0"/>
<rect x="562" y="571" width="1" height="68" fill="#C0C0C0"/>
<rect x="570" y="571" width="1" height="66" fill="#C0C0C0"/>
<rect x="578" y="571" width="1" height="70" fill="#C0C0C0"/>
<rect x="586" y="571" width="1" height="74" fill="#C0C0C0"/>
<rect x="594" y="571" width="1" height="76" fill="#C0C0C0"/>
<rect x="602" y="571" width="1" height="74" fill="#C0C0C0"/>
<rect x="610" y="571" width="1" height="72" fill="#C0C0C0"/>
<rect x="618" y="571" width="1" height="65" fill="#C0C0C0"/>
<rect x="626" y="571" width="1" height="52" fill="#C0C0C0"/>
<rect x="634" y="571" width="1" height="40" fill="#C0C0C0"/>
<rect x="642" y="571" width="1" height="30" fill="#C0C0C0"/>
<rect x="650" y="571" width="1" height="20" fill="#C0C0C0"/>
<rect x="658" y="571" width="1" height="15" fill="#C0C0C0"/>
<rect x="666" y="571" width="1" height="9" fill="#C0C0C0"/>
<rect x="674" y="571" width="1" height="6" fill="#C0C0C0"/>
<rect x="682" y="571" width="1" height="2" fill="#C0C0C0"/>
<rect x="690" y="564" width="1" height="8" fill="#C0C0C0"/>
<rect x="698" y="557" width="1" height="15" fill="#C0C0C0"/>
<rect x="706" y="550" width="1" height="22" fill="#C0C0C0"/>
<rect x="714" y="542" width="1" height="30" fill="#C0C0C0"/>
<rect x="722" y="537" width="1" height="35" fill="#C0C0C0"/>
<rect x="730" y="538" width="1" height="34" fill="#C0C0C0"/>
<rect x="738" y="540" width="1" height="32" fill="#C0C0C0"/>
<rect x="746" y="542" width="1" height="30" fill="#C0C0C0"/>
<rect x="754" y="546" width="1" height="26" fill="#C0C0C0"/>
<rect x="762" y="554" width="1" height="18" fill="#C0C0C0"/>
<rect x="770" y="563" width="1" height="9" fill="#C0C0C0"/>
<rect x="778" y="569" width="1" height="3" fill="#C0C0C0"/>
<rect x="786" y="566" width="1" height="6" fill="#C0C0C0"/>
<rect x="794" y="563" width="1" height="9" fill="#C0C0C0"/>
<rect x="802" y="559" width="1" height="13" fill="#C0C0C0"/>
<rect x="810" y="557" width="1" height="15" fill="#C0C0C0"/>
<rect x="818" y="555" width="1" height="17" fill="#C0C0C0"/>
<rect x="826" y="553" width="1" height="19" fill="#C0C0C0"/>
<rect x="834" y="551" width="1" height="21" fill="#C0C0C0"/>
<rect x="842" y="549" width="1" height="23" fill="#C0C0C0"/>
<rect x="850" y="546" width="1" height="26" fill="#C0C0C0"/>
<rect x="858" y="546" width="1" height="26" fill="#C0C0C0"/>
<rect x="866" y="546" width="1" height="26" fill="#C0C0C0"/>
<rect x="874" y="547" width="1" height="25" fill="#C0C0C0"/>
<rect x="882" y="548" width="1" height="24" fill="#C0C0C0"/>
<rect x="890" y="547" width="1" height="25" fill="#C0C0C0"/>
<rect x="898" y="545" width="1" height="27" fill="#C0C0C0"/>
<rect x="906" y="546" width="1" height="26" fill="#C0C0C0"/>
<rect x="914" y="548" width="1" height="24" fill="#C0C0C0"/>
<rect x="922" y="550" width="1" height="22" fill="#C0C0C0"/>
<rect x="930" y="547" width="1" height="25" fill="#C0C0C0"/>
<rect x="938" y="539" width="1" height="33" fill="#C0C0C0"/>
<rect x="946" y="535" width="1" height="37" fill="#C0C0C0"/>
<rect x="954" y="537" width="1" height="35" fill="#C0C0C0"/>
<rect x="962" y="542" width="1" height="30" fill="#C0C0C0"/>
<rect x="970" y="547" width="1" height="25" fill="#C0C0C0"/>
<rect x="978" y="549" width="1" height="23" fill="#C0C0C0"/>
<rect x="986" y="551" width="1" height="21" fill="#C0C0C0"/>
<rect x="994" y="555" width="1" height="17" fill="#C0C0C0"/>
<rect x="1002" y="553" width="1" height="19" fill="#C0C0C0"/>
<rect x="1010" y="552" width="1" height="20" fill="#C0C0C0"/>
<rect x="1018" y="551" width="1" height="21" fill="#C0C0C0"/>
<rect x="1026" y="549" width="1" height="23" fill="#C0C0C0"/>
<rect x="1034" y="552" width="1" height="20" fill="#C0C0C0"/>
<rect x="1042" y="552" width="1" height="20" fill="#C0C0C0"/>
<rect x="1050" y="558" width="1" height="14" fill="#C0C0C0"/>
<rect x="1058" y="559" width="1" height="13" fill="#C0C0C0"/>
<rect x="1066" y="560" width="1" height="12" fill="#C0C0C0"/>
<rect x="1074" y="559" width="1" height="13" fill="#C0C0C0"/>
<rect x="1082" y="559" width="1" height="13" fill="#C0C0C0"/>
<rect x="1090" y="561" width="1" height="11" fill="#C0C0C0"/>
<rect x="1098" y="562" width="1" height="10" fill="#C0C0C0"/>
<rect x="1106" y="562" width="1" height="10" fill="#C0C0C0"/>
<rect x="1114" y="566" width="1" height="6" fill="#C0C0C0"/>
<rect x="1122" y="570" width="1" height="2" fill="#C0C0C0"/>
<rect x="1130" y="571" width="1" height="4" fill="#C0C0C0"/>
<rect x="1138" y="571" width="1" height="5" fill="#C0C0C0"/>
<rect x="1146" y="571" width="1" height="7" fill="#C0C0C0"/>
<rect x="1154" y="571" width="1" height="8" fill="#C0C0C0"/>
<rect x="1162" y="571" width="1" height="7" fill="#C0C0C0"/>
<rect x="1170" y="571" width="1" height="6" fill="#C0C0C0"/>
<rect x="1178" y="571" width="1" height="4" fill="#C0C0C0"/>
<rect x="1186" y="571" width="1" height="3" fill="#C0C0C0"/>
<rect x="1194" y="571" width="1" height="3" fill="#C0C0C0"/>
<rect x="1202" y="571" width="1" height="5" fill="#C0C0C0"/>
<rect x="1210" y="571" width="1" height="7" fill="#C0C0C0"/>
<rect x="1218" y="571" width="1" height="8" fill="#C0C0C0"/>
<rect x="1226" y="571" width="1" height="9" fill="#C0C0C0"/>
<rect x="1234" y="571" width="1" height="12" fill="#C0C0C0"/>
<rect x="1242" y="571" width="1" height="12" fill="#C0C0C0"/>
<rect x="1250" y="571" width="1" height="13" fill="#C0C0C0"/>
<rect x="1258" y="571" width="1" height="10" fill="#C0C0C0"/>
<rect x="1266" y="571" width="1" height="8" fill="#C0C0C0"/>
<rect x="1274" y="571" width="1" height="7" fill="#C0C0C0"/>
<rect x="1282" y="571" width="1" height="7" fill="#C0C0C0"/>
<rect x="1290" y="571" width="1" height="9" fill="#C0C0C0"/>
<rect x="1298" y="571" width="1" height="10" fill="#C0C0C0"/>
<rect x="1306" y="571" width="1" height="17" fill="#C0C0C0"/>
<rect x="1314" y="571" width="1" height="22" fill="#C0C0C0"/>
<rect x="1322" y="571" width="1" height="28" fill="#C0C0C0"/>
<rect x="1330" y="571" width="1" height="30" fill="#C0C0C0"/>
<path d="M958 542h3M964 542h3M970 542h3M976 542h2M952 543h3M978 543h1M982 543h3M761 544h2M766 544h1M946 544h3M988 544h3M994 544h3M756 545h1M760 545h1M767 545h2M772 545h1M941 545h2M1000 545h3M1006 545h3M754 546h2M773 546h2M893 546h2M898 546h3M904 546h3M910 546h3M916 546h3M934 546h3M940 546h1M750 547h1M778 547h3M887 547h2M892 547h1M922 547h3M928 547h3M1012 547h2M748 548h2M881 548h2M886 548h1M1014 548h1M1018 548h1M193 549h2M198 549h3M204 549h3M210 549h3M784 549h3M874 549h3M880 549h1M1019 549h2M1024 549h3M188 550h1M192 550h1M216 550h3M222 550h1M743 550h2M864 550h1M868 550h3M1030 550h3M186 551h2M223 551h2M742 551h1M790 551h2M862 551h2M1036 551h3M1042 551h1M228 552h3M792 552h1M856 552h3M1043 552h2M1048 552h2M181 553h2M737 553h2M796 553h1M852 553h1M1050 553h1M1054 553h2M180 554h1M234 554h3M736 554h1M797 554h2M850 554h2M1056 554h1M1060 554h3M1066 554h3M1072 554h3M802 555h2M846 555h1M1078 555h3M175 556h2M240 556h2M731 556h2M804 556h1M844 556h2M1084 556h3M174 557h1M242 557h1M730 557h1M808 557h3M814 557h1M839 557h2M1090 557h3M1096 557h2M815 558h2M820 558h3M826 558h2M838 558h1M1098 558h1M1102 558h3M170 559h1M246 559h2M828 559h1M832 559h3M1108 559h3M169 560h1M248 560h1M726 560h1M1114 560h3M168 561h1M724 561h2M1120 561h3M252 562h1M1126 562h2M164 563h1M253 563h1M1128 563h1M163 564h1M254 564h1M1132 564h3M162 565h1M720 565h1M1138 565h1M258 566h1M718 566h2M1139 566h2M259 567h2M1144 567h3M1150 568h3M158 569h1M1156 569h1M156 570h2M264 570h2M713 570h2M1157 570h2M266 571h1M712 571h1M1162 571h2M1164 572h1M1168 573h3M152 574h1M270 574h1M708 574h1M1174 574h3M151 575h1M271 575h2M707 575h1M1180 575h3M1186 575h3M150 576h1M706 576h1M1192 576h3M1198 576h3M1204 576h3M1210 576h3M1216 576h3M1222 576h3M1228 576h3M1234 577h3M1240 577h3M1246 577h1M276 578h1M1247 578h2M1252 578h3M277 579h1M702 579h1M1258 579h3M1264 579h3M146 580h1M278 580h1M701 580h1M1270 580h3M1276 580h3M1282 580h3M1288 580h3M1294 580h3M1300 580h3M1306 580h2M145 581h1M700 581h1M1308 581h1M144 582h1M1312 582h3M1318 583h3M282 584h1M696 584h1M1324 584h2M283 585h1M695 585h1M1326 585h1M141 586h1M284 586h1M694 586h1M140 587h1M139 588h1M288 589h1M289 590h1M690 590h1M290 591h1M689 591h1M135 592h1M688 592h1M134 593h1M133 594h1M294 595h1M684 595h1M295 596h1M683 596h1M296 597h1M682 597h1M130 598h1M129 599h1M128 600h1M678 600h1M300 601h1M677 601h1M301 602h1M676 602h1M302 603h1M124 604h1M123 605h1M122 606h1M672 606h1M305 607h1M672 607h1M306 608h1M671 608h1M307 609h1M119 610h1M118 611h1M117 612h1M667 612h1M310 613h1M666 613h1M311 614h1M665 614h1M312 615h1M113 616h1M112 617h1M111 618h1M661 618h1M315 619h1M660 619h1M316 620h1M659 620h1M107 621h1M317 621h1M105 622h2M654 624h2M101 625h1M320 625h1M653 625h1M100 626h1M320 626h1M99 627h1M321 627h1M649 628h1M647 629h2M94 630h2M93 631h1M324 631h1M643 631h1M325 632h1M641 632h2M89 633h1M326 633h1M87 634h2M637 634h1M635 635h2M82 636h2M81 637h1M329 637h2M631 637h1M77 638h1M331 638h1M629 638h2M75 639h2M3 640h3M70 640h2M335 640h1M625 640h1M9 641h2M69 641h1M336 641h1M623 641h2M11 642h1M64 642h2M337 642h1M618 642h2M15 643h3M63 643h1M612 643h2M617 643h1M57 644h3M341 644h1M605 644h3M611 644h1M21 645h3M52 645h2M342 645h1M599 645h3M27 646h3M45 646h3M51 646h1M343 646h1M593 646h3M33 647h3M39 647h3M587 647h3M581 648h3M347 649h1M486 649h2M491 649h3M575 649h3M348 650h1M480 650h2M485 650h1M497 650h3M503 650h3M569 650h3M349 651h1M474 651h2M479 651h1M509 651h3M565 651h1M469 652h1M473 652h1M515 652h3M521 652h3M527 652h3M533 652h3M539 652h1M557 652h3M563 652h2M467 653h2M540 653h2M545 653h3M551 653h3M353 655h1M462 655h2M354 656h2M461 656h1M457 657h1M359 658h1M455 658h2M360 659h2M450 659h2M449 660h1M365 661h1M444 661h2M366 662h2M443 662h1M371 664h1M438 664h2M372 665h2M437 665h1M377 667h1M432 667h2M378 668h2M431 668h1M383 669h3M389 669h1M425 669h3M390 670h2M395 670h3M419 670h3M401 671h3M413 671h3M407 672h3" transform="translate(0,.5)" fill="none" stroke="#FF0000" stroke-width="1"/>
<line x1="3" y1="731.5" x2="1681" y2="731.5" stroke="#C0C0C0" stroke-width="1" stroke-dasharray="3 3"/>
<line x1="3" y1="781.5" x2="1681" y2="781.5" stroke="#C0C0C0" stroke-width="1" stroke-dasharray="3 3"/>
<path d="M714 734h1M712 735h2M715 735h2M710 736h2M717 736h2M937 736h10M708 737h2M719 737h1M933 737h4M947 737h1M705 738h3M720 738h2M930 738h3M947 738h1M129 739h2M703 739h2M722 739h1M930 739h1M948 739h1M125 740h4M131 740h2M700 740h3M723 740h1M929 740h1M949 740h1M119 741h6M133 741h2M697 741h3M724 741h1M929 741h1M949 741h1M106 742h13M135 742h1M693 742h4M725 742h1M928 742h1M950 742h1M105 743h1M136 743h2M690 743h3M726 743h1M898 743h5M928 743h1M951 743h1M104 744h1M138 744h10M688 744h2M726 744h1M849 744h2M896 744h2M903 744h4M927 744h1M951 744h1M103 745h1M148 745h3M178 745h2M686 745h2M727 745h1M845 745h4M851 745h2M894 745h2M907 745h1M927 745h1M952 745h1M102 746h1M151 746h2M176 746h2M180 746h2M684 746h2M728 746h1M839 746h6M853 746h2M882 746h5M892 746h2M908 746h1M926 746h1M953 746h1M1025 746h2M102 747h1M153 747h3M174 747h2M182 747h2M193 747h2M641 747h4M682 747h2M729 747h1M799 747h4M818 747h3M833 747h6M855 747h1M865 747h3M880 747h2M887 747h5M909 747h1M926 747h1M953 747h1M1002 747h5M1021 747h4M1027 747h2M101 748h1M156 748h3M172 748h2M184 748h2M189 748h4M195 748h1M639 748h2M645 748h4M681 748h1M730 748h10M793 748h6M803 748h2M816 748h2M821 748h4M829 748h4M856 748h2M861 748h4M868 748h3M878 748h2M910 748h1M925 748h1M954 748h1M1001 748h1M1007 748h14M1029 748h1M100 749h1M159 749h2M167 749h5M186 749h3M195 749h1M636 749h3M649 749h3M665 749h3M679 749h2M740 749h3M789 749h4M805 749h2M815 749h1M825 749h4M858 749h3M871 749h2M876 749h2M911 749h1M925 749h1M955 749h1M1000 749h1M1030 749h1M1041 749h2M99 750h1M161 750h6M196 750h1M634 750h2M652 750h3M663 750h2M668 750h2M678 750h1M743 750h2M786 750h3M807 750h1M813 750h2M873 750h3M912 750h1M924 750h1M956 750h1M999 750h1M1031 750h2M1039 750h2M1043 750h1M95 751h4M196 751h1M632 751h2M655 751h2M660 751h3M670 751h2M677 751h1M745 751h3M785 751h1M808 751h2M811 751h2M913 751h1M924 751h1M957 751h1M998 751h1M1033 751h1M1036 751h3M1043 751h1M1071 751h12M90 752h5M197 752h1M630 752h2M657 752h3M672 752h2M675 752h2M748 752h2M785 752h1M810 752h1M914 752h2M923 752h1M958 752h1M983 752h5M998 752h1M1034 752h2M1044 752h1M1065 752h6M1083 752h2M1105 752h2M1258 752h2M89 753h1M197 753h1M628 753h2M674 753h1M750 753h2M784 753h1M916 753h3M923 753h1M959 753h1M978 753h5M988 753h2M997 753h1M1044 753h1M1061 753h4M1085 753h2M1101 753h4M1107 753h1M1185 753h3M1257 753h1M1260 753h2M88 754h1M198 754h1M218 754h1M626 754h2M752 754h2M784 754h1M919 754h2M922 754h1M960 754h1M976 754h2M990 754h2M996 754h1M1045 754h1M1058 754h3M1087 754h1M1097 754h4M1108 754h1M1181 754h4M1188 754h2M1257 754h1M1262 754h2M87 755h1M199 755h1M216 755h2M219 755h2M625 755h1M754 755h1M783 755h1M921 755h2M961 755h1M974 755h2M992 755h2M995 755h1M1046 755h1M1057 755h1M1088 755h2M1093 755h4M1108 755h1M1177 755h4M1190 755h2M1256 755h1M1264 755h2M86 756h1M199 756h1M215 756h1M221 756h2M624 756h1M755 756h1M783 756h1M962 756h5M972 756h2M994 756h1M1046 756h1M1056 756h1M1090 756h3M1109 756h1M1162 756h5M1173 756h4M1192 756h2M1256 756h1M1266 756h10M86 757h1M200 757h1M213 757h2M223 757h1M624 757h1M756 757h1M782 757h1M967 757h5M1047 757h1M1055 757h1M1110 757h1M1160 757h2M1167 757h6M1194 757h1M1255 757h1M1276 757h3M85 758h1M200 758h1M211 758h2M224 758h2M623 758h1M757 758h1M781 758h1M1048 758h1M1054 758h1M1111 758h1M1159 758h1M1195 758h1M1255 758h1M1279 758h2M84 759h1M201 759h1M209 759h2M226 759h3M622 759h1M758 759h1M781 759h1M1048 759h1M1053 759h1M1112 759h1M1138 759h2M1157 759h2M1196 759h1M1254 759h1M1281 759h3M58 760h2M83 760h1M201 760h1M205 760h4M229 760h4M621 760h1M759 760h1M780 760h1M1049 760h1M1052 760h1M1112 760h1M1137 760h1M1140 760h3M1155 760h2M1197 760h2M1210 760h1M1253 760h1M1284 760h2M58 761h1M60 761h2M73 761h10M202 761h3M233 761h2M620 761h1M760 761h1M780 761h1M1049 761h1M1051 761h1M1113 761h1M1135 761h2M1143 761h2M1151 761h4M1199 761h1M1208 761h2M1211 761h2M1253 761h1M1286 761h2M57 762h1M62 762h2M71 762h2M235 762h1M620 762h1M761 762h1M779 762h1M1050 762h1M1114 762h2M1134 762h1M1145 762h6M1200 762h1M1206 762h2M1213 762h2M1252 762h1M1288 762h2M57 763h1M64 763h2M68 763h3M236 763h1M619 763h1M762 763h1M779 763h1M1116 763h3M1133 763h1M1201 763h1M1204 763h2M1215 763h1M1242 763h2M1252 763h1M1290 763h9M56 764h1M66 764h2M237 764h2M618 764h1M763 764h2M778 764h1M1119 764h2M1131 764h2M1202 764h2M1216 764h2M1223 764h5M1240 764h2M1244 764h3M1251 764h1M1298 764h1M56 765h1M239 765h1M409 765h6M554 765h3M617 765h1M765 765h1M776 765h2M1121 765h10M1218 765h5M1228 765h3M1238 765h2M1247 765h2M1251 765h1M1299 765h1M55 766h1M240 766h1M405 766h4M415 766h8M553 766h1M557 766h4M616 766h1M766 766h1M775 766h1M1231 766h2M1236 766h2M1249 766h2M1299 766h1M55 767h1M241 767h1M402 767h3M423 767h4M552 767h1M561 767h3M615 767h1M767 767h2M773 767h2M1233 767h3M1300 767h1M54 768h1M242 768h1M401 768h1M427 768h2M552 768h1M564 768h2M614 768h1M769 768h1M771 768h2M1300 768h1M54 769h1M243 769h1M329 769h2M400 769h1M429 769h2M489 769h2M551 769h1M566 769h2M613 769h1M770 769h1M1301 769h1M54 770h1M244 770h1M325 770h4M331 770h2M399 770h1M431 770h1M487 770h2M491 770h1M550 770h1M568 770h2M612 770h1M1301 770h1M53 771h1M245 771h2M322 771h3M333 771h2M397 771h2M432 771h2M474 771h5M484 771h3M491 771h1M549 771h1M570 771h1M611 771h1M1302 771h1M2 772h2M53 772h1M247 772h1M321 772h1M335 772h1M396 772h1M434 772h1M473 772h1M479 772h5M492 772h1M548 772h1M571 772h1M610 772h1M1302 772h1M4 773h2M52 773h1M248 773h1M321 773h1M336 773h2M395 773h1M435 773h2M472 773h1M493 773h1M548 773h1M572 773h1M609 773h1M1303 773h1M6 774h2M42 774h2M52 774h1M249 774h1M320 774h1M338 774h2M386 774h9M437 774h2M471 774h1M494 774h1M547 774h1M573 774h1M608 774h1M1303 774h1M8 775h2M41 775h1M44 775h2M51 775h1M250 775h3M274 775h1M319 775h1M340 775h3M385 775h1M439 775h1M470 775h1M494 775h1M545 775h2M574 775h1M607 775h1M1304 775h1M10 776h3M40 776h1M46 776h2M51 776h1M253 776h4M272 776h2M275 776h1M318 776h1M343 776h2M384 776h1M440 776h2M447 776h5M470 776h1M495 776h1M541 776h4M575 776h1M605 776h2M1304 776h1M13 777h4M39 777h1M48 777h3M257 777h4M270 777h2M276 777h1M318 777h1M345 777h2M383 777h1M442 777h5M452 777h2M469 777h1M496 777h1M537 777h4M576 777h1M594 777h3M604 777h1M1305 777h1M17 778h4M38 778h1M50 778h1M261 778h4M268 778h2M277 778h1M317 778h1M347 778h2M382 778h1M454 778h2M468 778h1M497 778h1M535 778h2M577 778h1M592 778h2M597 778h4M603 778h1M1305 778h1M1329 778h2M21 779h4M37 779h1M265 779h3M278 779h1M316 779h1M349 779h2M381 779h1M456 779h2M467 779h1M497 779h1M521 779h6M532 779h3M578 779h3M590 779h2M601 779h2M1306 779h11M1327 779h2M25 780h4M36 780h1M279 780h1M315 780h1M351 780h1M380 780h1M458 780h9M498 780h3M519 780h2M527 780h5M581 780h4M588 780h2M1317 780h4M1324 780h3M29 781h4M35 781h1M280 781h1M315 781h1M352 781h2M379 781h1M501 781h4M516 781h3M585 781h3M1321 781h3M33 782h2M281 782h1M287 782h4M314 782h1M354 782h10M378 782h1M505 782h11M282 783h5M291 783h1M313 783h1M364 783h2M376 783h2M291 784h1M313 784h1M366 784h2M374 784h2M292 785h1M312 785h1M368 785h2M372 785h2M293 786h1M311 786h1M370 786h2M294 787h1M311 787h1M294 788h1M310 788h1M295 789h1M309 789h1M296 790h1M309 790h1M297 791h1M308 791h1M297 792h1M307 792h1M298 793h5M307 793h1M303 794h4" transform="translate(0,.5)" fill="none" stroke="#1E90FF" stroke-width="1"/>
<rect x="1" y="2" width="1682" height="1" fill="#000"/>
<rect x="1" y="2" width="1" height="817" fill="#000"/>
<rect x="1682" y="2" width="1" height="817" fill="#000"/>
<rect x="1" y="523" width="1682" height="1" fill="#000"/>
<rect x="1" y="525" width="1682" height="1" fill="#000"/>
<rect x="1" y="524" width="1" height="1" fill="#fff"/>
<rect x="1682" y="524" width="1" height="1" fill="#fff"/>
<rect x="1" y="691" width="1682" height="1" fill="#000"/>
<rect x="1" y="693" width="1682" height="1" fill="#000"/>
<rect x="1" y="692" width="1" height="1" fill="#fff"/>
<rect x="1682" y="692" width="1" height="1" fill="#fff"/>
<rect x="1" y="818" width="1682" height="1" fill="#000"/>
<rect x="1683" y="25" width="2" height="1" fill="#000"/>
<rect x="1683" y="58" width="2" height="1" fill="#000"/>
<rect x="1683" y="91" width="2" height="1" fill="#000"/>
<rect x="1683" y="124" width="2" height="1" fill="#000"/>
<rect x="1683" y="157" width="2" height="1" fill="#000"/>
<rect x="1683" y="190" width="2" height="1" fill="#000"/>
<rect x="1683" y="223" width="2" height="1" fill="#000"/>
<rect x="1683" y="256" width="2" height="1" fill="#000"/>
<rect x="1683" y="289" width="2" height="1" fill="#000"/>
<rect x="1683" y="322" width="2" height="1" fill="#000"/>
<rect x="1683" y="355" width="2" height="1" fill="#000"/>
<rect x="1683" y="421" width="2" height="1" fill="#000"/>
<rect x="1683" y="454" width="2" height="1" fill="#000"/>
<rect x="1683" y="487" width="2" height="1" fill="#000"/>
<rect x="1683" y="520" width="2" height="1" fill="#000"/>
<rect x="1683" y="571" width="2" height="1" fill="#000"/>
<rect x="1683" y="526" width="2" height="1" fill="#000"/>
<rect x="1683" y="690" width="2" height="1" fill="#000"/>
<rect x="1683" y="694" width="2" height="1" fill="#000"/>
<rect x="1683" y="817" width="2" height="1" fill="#000"/>
<rect x="2" y="819" width="1" height="3" fill="#000"/>
<rect x="66" y="819" width="1" height="3" fill="#000"/>
<rect x="130" y="819" width="1" height="3" fill="#000"/>
<rect x="194" y="819" width="1" height="3" fill="#000"/>
<rect x="258" y="819" width="1" height="3" fill="#000"/>
<rect x="322" y="819" width="1" height="3" fill="#000"/>
<rect x="386" y="819" width="1" height="3" fill="#000"/>
<rect x="450" y="819" width="1" height="3" fill="#000"/>
<rect x="514" y="819" width="1" height="3" fill="#000"/>
<rect x="578" y="819" width="1" height="3" fill="#000"/>
<rect x="642" y="819" width="1" height="3" fill="#000"/>
<rect x="706" y="819" width="1" height="3" fill="#000"/>
<rect x="770" y="819" width="1" height="3" fill="#000"/>
<rect x="834" y="819" width="1" height="3" fill="#000"/>
<rect x="898" y="819" width="1" height="3" fill="#000"/>
<rect x="962" y="819" width="1" height="3" fill="#000"/>
<rect x="1026" y="819" width="1" height="3" fill="#000"/>
<rect x="1090" y="819" width="1" height="3" fill="#000"/>
<rect x="1154" y="819" width="1" height="3" fill="#000"/>
<rect x="1218" y="819" width="1" height="3" fill="#000"/>
<rect x="1282" y="819" width="1" height="3" fill="#000"/>
<rect x="1684" y="94" width="38" height="11" fill="#FF0000"/>
<rect x="1684" y="181" width="38" height="11" fill="#FF0000"/>
<rect x="1684" y="302" width="38" height="11" fill="#32CD32"/>
<rect x="1684" y="384" width="38" height="11" fill="#000"/>
<rect x="1684" y="424" width="38" height="11" fill="#4169E1"/>
<rect x="1684" y="510" width="38" height="11" fill="#4169E1"/>
</g>
<text x="1688.6" y="28.5" textLength="32" lengthAdjust="spacingAndGlyphs">1816.70</text>
<text x="1688.6" y="61.5" textLength="32" lengthAdjust="spacingAndGlyphs">1806.95</text>
<text x="1688.6" y="94.5" textLength="32" lengthAdjust="spacingAndGlyphs">1797.45</text>
<text x="1688.6" y="127.5" textLength="32" lengthAdjust="spacingAndGlyphs">1787.95</text>
<text x="1688.6" y="160.5" textLength="32" lengthAdjust="spacingAndGlyphs">1778.45</text>
<text x="1688.6" y="193.5" textLength="32" lengthAdjust="spacingAndGlyphs">1768.95</text>
<text x="1688.6" y="226.5" textLength="32" lengthAdjust="spacingAndGlyphs">1759.45</text>
<text x="1688.6" y="259.5" textLength="32" lengthAdjust="spacingAndGlyphs">1749.95</text>
<text x="1688.6" y="292.5" textLength="32" lengthAdjust="spacingAndGlyphs">1740.45</text>
<text x="1688.6" y="325.5" textLength="32" lengthAdjust="spacingAndGlyphs">1730.95</text>
<text x="1688.6" y="358.5" textLength="32" lengthAdjust="spacingAndGlyphs">1721.45</text>
<text x="1688.6" y="424.5" textLength="32" lengthAdjust="spacingAndGlyphs">1702.45</text>
<text x="1688.6" y="457.5" textLength="32" lengthAdjust="spacingAndGlyphs">1692.95</text>
<text x="1688.6" y="490.5" textLength="32" lengthAdjust="spacingAndGlyphs">1683.45</text>
<text x="1688.6" y="523.5" textLength="32" lengthAdjust="spacingAndGlyphs">1673.95</text>
<g shape-rendering="crispEdges">
<rect x="1684" y="94" width="38" height="11" fill="#FF0000"/>
<rect x="1684" y="181" width="38" height="11" fill="#FF0000"/>
<rect x="1684" y="302" width="38" height="11" fill="#32CD32"/>
<rect x="1684" y="384" width="38" height="11" fill="#000"/>
<rect x="1684" y="424" width="38" height="11" fill="#4169E1"/>
<rect x="1684" y="510" width="38" height="11" fill="#4169E1"/>
</g>
<text x="1688.6" y="103.0" style="fill:#fff;stroke:#fff" textLength="32" lengthAdjust="spacingAndGlyphs">1795.00</text>
<text x="1688.6" y="190.0" style="fill:#fff;stroke:#fff" textLength="32" lengthAdjust="spacingAndGlyphs">1770.00</text>
<text x="1688.6" y="311.0" style="fill:#fff;stroke:#fff" textLength="32" lengthAdjust="spacingAndGlyphs">1735.00</text>
<text x="1688.6" y="393.0" style="fill:#fff;stroke:#fff" textLength="32" lengthAdjust="spacingAndGlyphs">1711.73</text>
<text x="1688.6" y="433.0" style="fill:#fff;stroke:#fff" textLength="32" lengthAdjust="spacingAndGlyphs">1700.00</text>
<text x="1688.6" y="519.0" style="fill:#fff;stroke:#fff" textLength="32" lengthAdjust="spacingAndGlyphs">1675.00</text>
<text x="1686" y="536.5" textLength="23.4" lengthAdjust="spacingAndGlyphs">7.294</text>
<text x="1686" y="575.5" textLength="18.2" lengthAdjust="spacingAndGlyphs">0.00</text>
<text x="1686" y="688.5" textLength="31.7" lengthAdjust="spacingAndGlyphs">-19.689</text>
<text x="1686" y="704.5" textLength="15.6" lengthAdjust="spacingAndGlyphs">100</text>
<text x="1685" y="735" textLength="10.4" lengthAdjust="spacingAndGlyphs">70</text>
<text x="1685" y="785" textLength="10.4" lengthAdjust="spacingAndGlyphs">30</text>
<text x="1686" y="815" textLength="5.2" lengthAdjust="spacingAndGlyphs">0</text>
<polygon points="5,9 12,9 8.5,13" fill="#000"/>
<text x="16.7" y="14" textLength="204.5" lengthAdjust="spacingAndGlyphs">XAUUSD-,H4&#160; 1712.62 1713.00 1710.80 1711.73</text>
<text x="6.2" y="538" textLength="123.8" lengthAdjust="spacingAndGlyphs">MACD(12,26,9) -4.924 -2.428</text>
<text x="6.2" y="706" textLength="67.5" lengthAdjust="spacingAndGlyphs">RSI(14) 32.0223</text>
<text x="1.6" y="831" textLength="52.0" lengthAdjust="spacingAndGlyphs">18 Feb 2021</text>
<text x="65.6" y="831" textLength="54.6" lengthAdjust="spacingAndGlyphs">19 Feb 16:00</text>
<text x="129.6" y="831" textLength="54.6" lengthAdjust="spacingAndGlyphs">23 Feb 00:00</text>
<text x="193.6" y="831" textLength="54.6" lengthAdjust="spacingAndGlyphs">24 Feb 08:00</text>
<text x="257.6" y="831" textLength="54.6" lengthAdjust="spacingAndGlyphs">25 Feb 16:00</text>
<text x="321.6" y="831" textLength="49.4" lengthAdjust="spacingAndGlyphs">1 Mar 00:00</text>
<text x="385.6" y="831" textLength="49.4" lengthAdjust="spacingAndGlyphs">2 Mar 08:00</text>
<text x="449.6" y="831" textLength="49.4" lengthAdjust="spacingAndGlyphs">3 Mar 16:00</text>
<text x="513.6" y="831" textLength="49.4" lengthAdjust="spacingAndGlyphs">5 Mar 00:00</text>
<text x="577.6" y="831" textLength="49.4" lengthAdjust="spacingAndGlyphs">8 Mar 08:00</text>
<text x="641.6" y="831" textLength="49.4" lengthAdjust="spacingAndGlyphs">9 Mar 16:00</text>
<text x="705.6" y="831" textLength="54.6" lengthAdjust="spacingAndGlyphs">11 Mar 00:00</text>
<text x="769.6" y="831" textLength="54.6" lengthAdjust="spacingAndGlyphs">12 Mar 08:00</text>
<text x="833.6" y="831" textLength="54.6" lengthAdjust="spacingAndGlyphs">15 Mar 16:00</text>
<text x="897.6" y="831" textLength="54.6" lengthAdjust="spacingAndGlyphs">17 Mar 00:00</text>
<text x="961.6" y="831" textLength="54.6" lengthAdjust="spacingAndGlyphs">18 Mar 08:00</text>
<text x="1025.6" y="831" textLength="54.6" lengthAdjust="spacingAndGlyphs">19 Mar 16:00</text>
<text x="1089.6" y="831" textLength="54.6" lengthAdjust="spacingAndGlyphs">23 Mar 00:00</text>
<text x="1153.6" y="831" textLength="54.6" lengthAdjust="spacingAndGlyphs">24 Mar 08:00</text>
<text x="1217.6" y="831" textLength="54.6" lengthAdjust="spacingAndGlyphs">25 Mar 16:00</text>
<text x="1281.6" y="831" textLength="54.6" lengthAdjust="spacingAndGlyphs">29 Mar 00:00</text>
<text x="1376.2" y="366" textLength="265" lengthAdjust="spacingAndGlyphs" style="font-family:'Liberation Sans','Noto Sans CJK SC',sans-serif;font-size:36.75px;fill:#ED1C24;stroke:#ED1C24;stroke-width:.3px">多空转折点1735</text>
</svg></body></html>
